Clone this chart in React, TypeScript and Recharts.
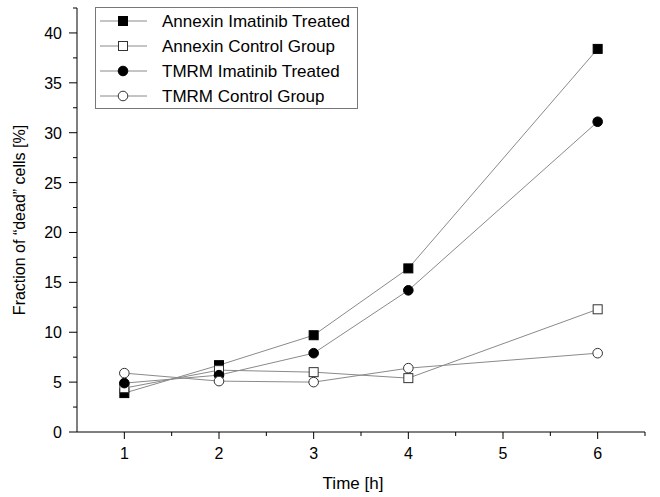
import React from 'react';
import { LineChart, Line, XAxis, YAxis, Legend } from 'recharts';

// time points (h)
const hours = [1, 2, 3, 4, 6];

// fraction of "dead" cells [%]
const annexinImatinib = [3.9, 6.7, 9.7, 16.4, 38.4];
const annexinControl = [4.4, 6.2, 6.0, 5.4, 12.3];
const tmrmImatinib = [4.9, 5.7, 7.9, 14.2, 31.1];
const tmrmControl = [5.9, 5.1, 5.0, 6.4, 7.9];

// axis ticks (majors get labels, halves are minor)
const xTicks = [1, 1.5, 2, 2.5, 3, 3.5, 4, 4.5, 5, 5.5, 6, 6.5];
const yTicks = [0, 2.5, 5, 7.5, 10, 12.5, 15, 17.5, 20, 22.5, 25, 27.5, 30, 32.5, 35, 37.5, 40, 42.5];
const xMajor = [1, 2, 3, 4, 5, 6];
const yMajor = [0, 5, 10, 15, 20, 25, 30, 35, 40];

const FONT = '"Liberation Sans", Arial, sans-serif';
const LINE = '#8a8a8a';

const data = hours.map((t, i) => ({
    t,
    annexinImatinib: annexinImatinib[i],
    annexinControl: annexinControl[i],
    tmrmImatinib: tmrmImatinib[i],
    tmrmControl: tmrmControl[i]
}));

type Shape = 'square' | 'circle';

const Marker = ({ cx, cy, shape, filled }: { cx: number; cy: number; shape: Shape; filled: boolean }) => {
    const fill = filled ? '#000' : '#fff';
    const stroke = filled ? '#000' : '#333';
    if (shape === 'square') {
        return <rect x={cx - 4.5} y={cy - 4.5} width={9} height={9} fill={fill} stroke={stroke} strokeWidth={1} />;
    }
    return <circle cx={cx} cy={cy} r={4.8} fill={fill} stroke={stroke} strokeWidth={1} />;
};

const makeDot = (shape: Shape, filled: boolean) => (props: any) => (
    <Marker key={props.index} cx={props.cx} cy={props.cy} shape={shape} filled={filled} />
);

const XTick = (props: any) => {
    const { x, y, payload } = props;
    const major = xMajor.includes(payload.value);
    return (
        <g>
            <line x1={x} y1={y} x2={x} y2={y + (major ? 7 : 4)} stroke="#000" />
            {major && (
                <text x={x} y={y + 27} textAnchor="middle" fontSize={16} fontFamily={FONT} fill="#000">
                    {payload.value}
                </text>
            )}
        </g>
    );
};

const YTick = (props: any) => {
    const { x, y, payload } = props;
    const major = yMajor.includes(payload.value);
    return (
        <g>
            <line x1={x} y1={y} x2={x - (major ? 8 : 4)} y2={y} stroke="#000" />
            {major && (
                <text x={x - 15} y={y + 6} textAnchor="end" fontSize={16} fontFamily={FONT} fill="#000">
                    {payload.value}
                </text>
            )}
        </g>
    );
};

const legendItems: { name: string; shape: Shape; filled: boolean }[] = [
    { name: 'Annexin Imatinib Treated', shape: 'square', filled: true },
    { name: 'Annexin Control Group', shape: 'square', filled: false },
    { name: 'TMRM Imatinib Treated', shape: 'circle', filled: true },
    { name: 'TMRM Control Group', shape: 'circle', filled: false }
];

const renderLegend = () => (
    <svg width={263} height={102} style={{ display: 'block' }}>
        <rect x={0.5} y={0.5} width={262} height={101} fill="#fff" stroke="#777" />
        {legendItems.map((item, i) => {
            const cy = 14 + i * 25;
            return (
                <g key={item.name}>
                    <line x1={5} y1={cy} x2={52} y2={cy} stroke={LINE} />
                    <Marker cx={28} cy={cy} shape={item.shape} filled={item.filled} />
                    <text x={67} y={cy + 6} fontSize={17} fontFamily={FONT} fill="#000">
                        {item.name}
                    </text>
                </g>
            );
        })}
    </svg>
);

export default function App() {
    return (
        <div style={{ position: 'absolute', left: 0, top: 0, background: '#fff' }}>
            <LineChart width={660} height={497} data={data} margin={{ top: 8, right: 15, bottom: 0, left: 0 }}>
                <XAxis
                    dataKey="t"
                    type="number"
                    domain={[0.5, 6.5]}
                    ticks={xTicks}
                    interval={0}
                    tickLine={false}
                    tickSize={0}
                    tickMargin={0}
                    tick={<XTick />}
                    height={65}
                    stroke="#000"
                    label={{
                        value: 'Time [h]',
                        position: 'insideBottom',
                        offset: 8,
                        dx: -8,
                        style: { fontSize: 17, fontFamily: FONT, fill: '#000' }
                    }}
                />
                <YAxis
                    type="number"
                    domain={[0, 42.5]}
                    ticks={yTicks}
                    interval={0}
                    tickLine={false}
                    tickSize={0}
                    tickMargin={0}
                    tick={<YTick />}
                    width={77}
                    stroke="#000"
                    label={{
                        value: 'Fraction of \u201Cdead\u201D cells [%]',
                        angle: -90,
                        position: 'insideLeft',
                        offset: 19,
                        style: { textAnchor: 'middle', fontSize: 16, fontFamily: FONT, fill: '#000' }
                    }}
                />
                <Legend
                    layout="vertical"
                    align="center"
                    verticalAlign="middle"
                    content={renderLegend}
                    wrapperStyle={{ left: 95, top: 7, width: 263, height: 102 }}
                />
                <Line
                    dataKey="annexinImatinib"
                    stroke={LINE}
                    strokeWidth={1}
                    dot={makeDot('square', true)}
                    isAnimationActive={false}
                />
                <Line
                    dataKey="annexinControl"
                    stroke={LINE}
                    strokeWidth={1}
                    dot={makeDot('square', false)}
                    isAnimationActive={false}
                />
                <Line
                    dataKey="tmrmImatinib"
                    stroke={LINE}
                    strokeWidth={1}
                    dot={makeDot('circle', true)}
                    isAnimationActive={false}
                />
                <Line
                    dataKey="tmrmControl"
                    stroke={LINE}
                    strokeWidth={1}
                    dot={makeDot('circle', false)}
                    isAnimationActive={false}
                />
            </LineChart>
        </div>
    );
}
